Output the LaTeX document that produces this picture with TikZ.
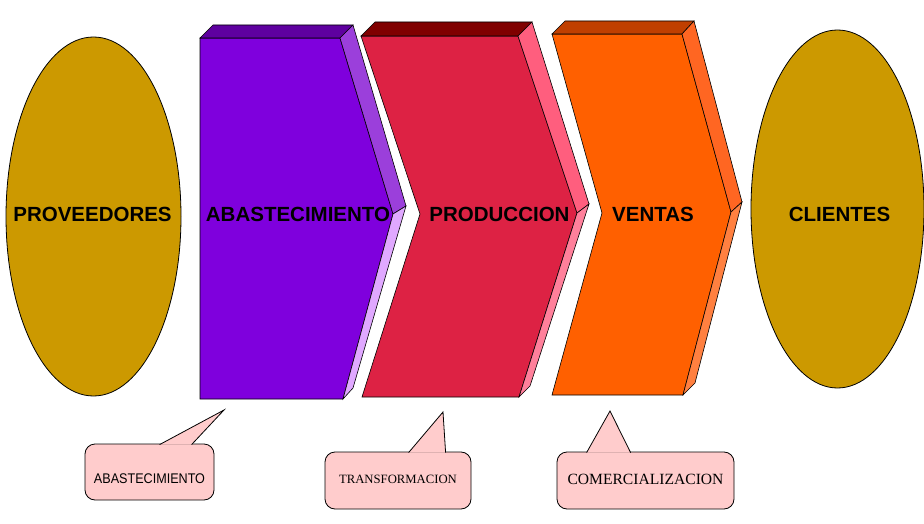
\documentclass[tikz,border=0pt]{standalone}
\usepackage{fontspec}
\setmainfont{Liberation Serif}
\newfontfamily\headfont{Liberation Sans}
\newfontfamily\narrowfont[FakeStretch=0.9]{Liberation Sans}
\usepackage{tikz}
\usetikzlibrary{shapes.geometric, calc}

\definecolor{partyGold}{HTML}{CC9900}
\definecolor{noteFill}{HTML}{FFCCCC}
\definecolor{abastFront}{HTML}{7F00DD}
\definecolor{abastTop}{HTML}{5E009F}
\definecolor{abastUpper}{HTML}{9B3FDB}
\definecolor{abastLower}{HTML}{E0A8FF}
\definecolor{prodFront}{HTML}{DD2244}
\definecolor{prodTop}{HTML}{800000}
\definecolor{prodUpper}{HTML}{FF5E7E}
\definecolor{prodLower}{HTML}{FF809B}
\definecolor{ventFront}{HTML}{FF6000}
\definecolor{ventTop}{HTML}{C03F00}
\definecolor{ventUpper}{HTML}{FF6622}
\definecolor{ventLower}{HTML}{FF8040}

\tikzstyle{party} = [ellipse, draw, fill=partyGold, inner sep=0pt,
    minimum width=175pt, minimum height=359pt]
\tikzstyle{stage} = [font=\headfont\bfseries\fontsize{20.5}{24}\selectfont]
\tikzstyle{note} = [rectangle, draw, fill=noteFill, rounded corners=10pt,
    inner sep=0pt, text depth=0pt]
\tikzstyle{tail} = [draw, fill=noteFill]

\begin{document}
\begin{tikzpicture}[x=1pt, y=-1pt, line width=0.8pt,
    face/.style={draw=black, line width=0.6pt}
    ]

    \useasboundingbox (0,0) rectangle (924,524);

    \node[party] (prov) at (93.5,216.5) {};
    \node[party, minimum width=173pt, minimum height=358pt] (cli) at (837.5,209) {};

    % abastecimiento
    \filldraw[face, fill=abastFront] (200,38) -- (340,38) -- (393,214) -- (343,399) -- (200,399) -- cycle;
    \filldraw[face, fill=abastTop] (200,38) -- (213,25) -- (353,25) -- (340,38) -- cycle;
    \filldraw[face, fill=abastUpper] (340,38) -- (353,25) -- (406,206) -- (393,214) -- cycle;
    \filldraw[face, fill=abastLower] (393,214) -- (406,206) -- (353,388) -- (343,399) -- cycle;

    % produccion
    \filldraw[face, fill=prodFront] (361,36) -- (518,36) -- (577,213) -- (519,397) -- (362,397) -- (420,214) -- cycle;
    \filldraw[face, fill=prodTop] (361,36) -- (375,22) -- (532,22) -- (518,36) -- cycle;
    \filldraw[face, fill=prodUpper] (518,36) -- (532,22) -- (589,204) -- (577,213) -- cycle;
    \filldraw[face, fill=prodLower] (577,213) -- (589,204) -- (530,386) -- (519,397) -- cycle;

    % ventas
    \filldraw[face, fill=ventFront] (552,34) -- (682,34) -- (731,212) -- (683,395) -- (552,395) -- (602,213) -- cycle;
    \filldraw[face, fill=ventTop] (552,34) -- (565,21) -- (694,21) -- (682,34) -- cycle;
    \filldraw[face, fill=ventUpper] (682,34) -- (694,21) -- (742,202) -- (731,212) -- cycle;
    \filldraw[face, fill=ventLower] (731,212) -- (742,202) -- (695,383) -- (683,395) -- cycle;

    \node[stage] (provText) at (92.5,214.5) {PROVEEDORES};
    \node[stage] (abastText) at (298,214.5) {ABASTECIMIENTO};
    \node[stage] (prodText) at (499.5,214.5) {PRODUCCION};
    \node[stage] (ventText) at (653,214.5) {VENTAS};
    \node[stage] (cliText) at (839.5,214.5) {CLIENTES};

    % notes
    \node[note, minimum width=129pt, minimum height=56pt, text height=22pt,
          font=\narrowfont\fontsize{14}{16}\selectfont] (abastNote) at (149.5,472) {ABASTECIMIENTO};
    \node[note, minimum width=146pt, minimum height=57pt, text height=5pt,
          font=\fontsize{12.7}{15}\selectfont] (prodNote) at (398,480.5) {TRANSFORMACION};
    \node[note, minimum width=177pt, minimum height=57pt, text height=7pt,
          font=\fontsize{15.6}{18}\selectfont] (ventNote) at (645.5,480.5) {COMERCIALIZACION};

    \coordinate (abastTip) at (224,410);
    \coordinate (prodTip) at (443,412);
    \coordinate (ventTip) at (610,411);

    \filldraw[tail] ([xshift=75pt, yshift=-1pt]abastNote.north west) -- (abastTip) -- ([xshift=107pt, yshift=-1pt]abastNote.north west);
    \filldraw[tail] ([xshift=84pt, yshift=-1pt]prodNote.north west) -- (prodTip) -- ([xshift=121pt, yshift=-1pt]prodNote.north west);
    \filldraw[tail] ([xshift=30pt, yshift=-1pt]ventNote.north west) -- (ventTip) -- ([xshift=74pt, yshift=-1pt]ventNote.north west);
\end{tikzpicture}
\end{document}
